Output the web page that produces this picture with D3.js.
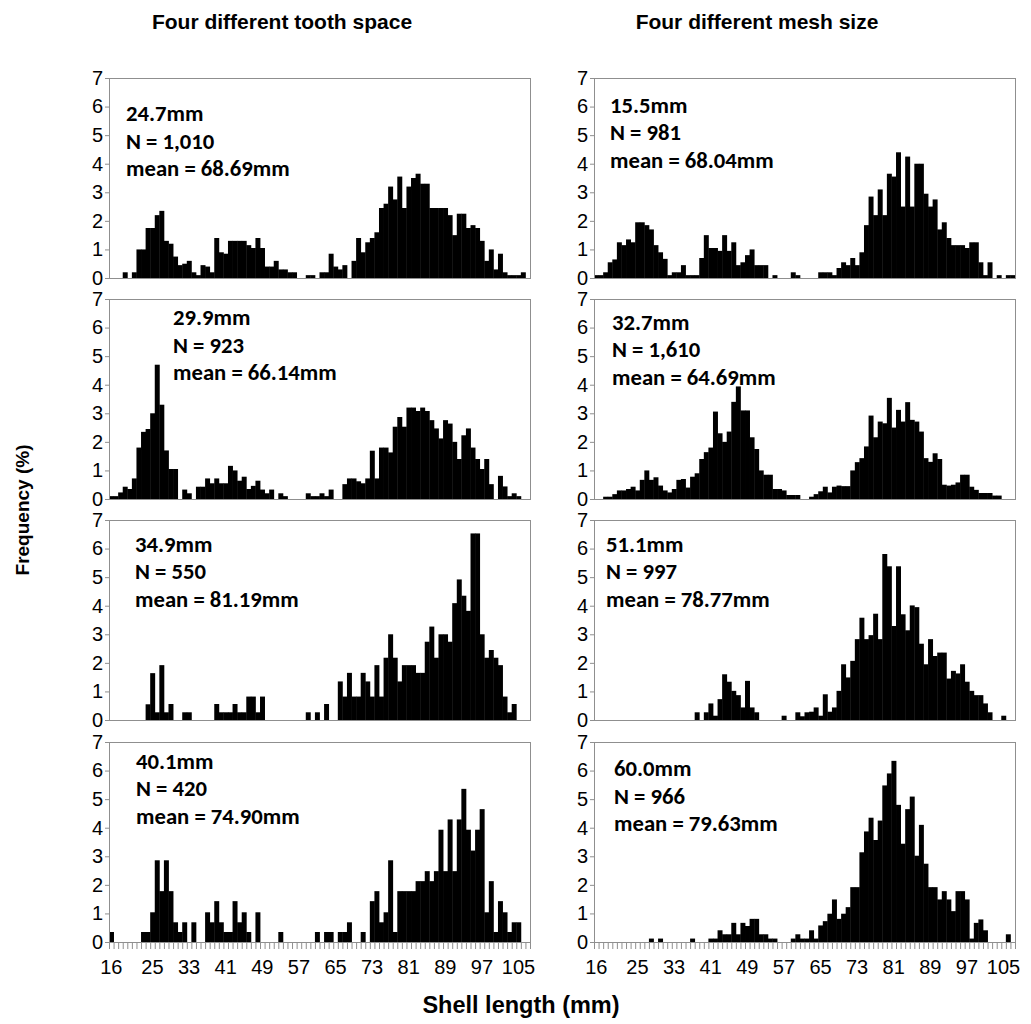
<!DOCTYPE html>
<html>
<head>
<meta charset="utf-8">
<script src="https://cdn.jsdelivr.net/npm/d3@7"></script>
<style>
  body { margin: 0; background: #fff; }
  svg { display: block; }
</style>
</head>
<body>
<svg id="chart"></svg>
<script>
// shell length classes (mm), one bar per class
const shellLength = d3.range(16, 108);
const tickLabels = [16, 25, 33, 41, 49, 57, 65, 73, 81, 89, 97, 105];
const yTicks = [0, 1, 2, 3, 4, 5, 6, 7];

// frequency (%) per class
const tooth247 = [0,0,0,0.2,0,0.2,1.0,1.0,1.75,1.75, 2.2,2.35,1.3,1.2,0.75,0.45,0.5,0.6,0.2,0.1,
  0.45,0.4,0.2,1.4,0.9,0.85,1.3,1.3,1.3,1.3, 1.15,1.05,1.4,1.05,0.4,0.4,0.6,0.3,0.3,0.2,
  0.2,0,0,0.1,0.1,0,0.2,0.2,0.85,0.4, 0.3,0.45,0,0.6,1.4,0.9,1.25,1.4,1.6,2.45,
  2.6,3.2,2.75,3.55,2.45,3.2,3.5,3.65,3.3,3.3, 2.45,2.45,2.45,2.45,2.2,1.5,2.25,2.25,1.75,1.85,
  1.75,1.3,0.6,1.0,0.3,0.85,0.2,0.1,0.1,0.1, 0.2,0];
const mesh155 = [0.1,0.1,0.2,0.55,0.65,1.25,1.15,1.35,1.25,1.95, 1.95,1.85,1.7,1.15,0.9,0.67,0.1,0.2,0.2,0.45,
  0.1,0.1,0.1,0.7,1.5,1.05,1.05,0.95,1.5,0.95, 1.25,0.45,0.55,0.8,1.0,0.45,0.45,0.45,0,0.1,
  0,0,0,0.2,0.1,0,0,0,0,0.2, 0.2,0.2,0.1,0.35,0.55,0.45,0.7,0.45,0.9,1.85,
  2.85,2.2,3.1,2.2,3.65,3.55,4.4,2.5,4.25,2.5, 4.0,4.0,2.95,2.5,2.75,1.7,1.95,1.4,1.15,1.15,
  1.15,1.05,1.25,1.25,0.55,0.1,0.55,0,0.1,0, 0.1,0.1];
const tooth299 = [0.1,0.1,0.23,0.43,0.35,0.72,1.8,2.35,2.45,3.0, 4.7,3.3,1.7,1.05,1.05,0,0.33,0.2,0,0.43,
  0.43,0.72,0.55,0.72,0.55,0.55,1.16,1.0,0.64,0.78, 0.35,0.46,0.64,0.33,0.2,0.33,0,0.2,0.1,0,
  0,0,0,0.2,0.1,0.1,0.2,0.1,0.33,0, 0,0.52,0.72,0.72,0.62,0.55,0.72,1.69,0.72,1.8,
  1.8,1.63,2.53,2.87,2.53,3.2,3.2,3.08,3.2,3.08, 2.76,2.47,2.12,2.76,2.64,2.0,1.4,2.23,2.47,1.8,
  1.4,1.05,1.4,0.52,0,0.81,0.44,0.1,0.2,0.1, 0,0];
const mesh327 = [0,0,0.08,0.08,0.17,0.3,0.3,0.35,0.43,0.3, 0.67,1.0,0.67,0.76,0.47,0.3,0.23,0.35,0.67,0.7,
  0.4,0.78,0.9,1.4,1.64,1.8,3.06,2.3,2.0,2.36, 3.4,3.94,3.1,3.1,2.16,1.75,1.0,0.85,0.85,0.35,
  0.35,0.3,0.14,0.14,0.14,0,0,0.08,0.17,0.27, 0.43,0.23,0.43,0.47,0.45,0.45,1.0,1.29,1.43,1.84,
  2.92,2.16,2.71,2.65,3.54,2.5,3.12,2.71,3.39,2.77, 2.71,2.36,1.43,1.3,1.6,1.4,0.5,0.47,0.5,0.58,
  0.85,0.85,0.43,0.32,0.21,0.21,0.21,0.12,0.12,0, 0,0];
const tooth349 = [0,0,0,0,0,0,0,0,0.55,1.64, 0.27,1.92,0.27,0.56,0,0,0.27,0.27,0,0,
  0,0,0,0.56,0.27,0.27,0.27,0.56,0.27,0.27, 0.82,0.82,0.27,0.82,0,0,0,0,0,0,
  0,0,0,0.27,0,0.27,0,0.56,0,0, 1.35,0.82,1.65,0.82,0.82,1.65,1.35,0.82,1.92,0.82,
  2.18,3.0,2.18,1.35,1.92,1.92,1.92,1.65,1.65,2.74, 3.27,2.18,3.0,3.0,2.74,4.09,4.92,4.35,3.82,6.53,
  6.53,3.0,2.18,2.45,2.18,1.92,0.82,0.27,0.56,0, 0,0];
const mesh511 = [0,0,0,0,0,0,0,0,0,0, 0,0,0,0,0,0,0,0,0,0,
  0,0,0.27,0,0.27,0.58,0.15,0.73,1.6,1.34, 1.02,0.87,0.44,1.37,0.44,0.27,0,0,0,0,
  0,0.15,0,0,0.27,0.13,0.27,0.29,0.44,0.15, 0.9,0.29,0.44,1.02,1.95,1.49,2.07,2.83,3.58,2.83,
  2.97,3.72,2.83,5.81,5.38,3.29,5.38,3.7,3.14,4.01, 3.95,2.67,1.95,2.83,2.24,2.36,2.36,1.45,1.72,1.63,
  1.95,1.34,1.02,0.87,0.87,0.58,0.27,0,0,0.15, 0,0];
const tooth401 = [0.35,0,0,0,0,0,0,0.35,0.35,1.04, 2.86,1.78,2.86,1.78,0.69,0.35,0.69,0,0.69,0,
  0,1.04,0.69,1.43,0.69,0.35,0.35,1.43,0.69,1.04, 0.35,0,1.04,0,0,0,0,0.35,0,0,
  0,0,0,0,0,0.35,0,0.35,0.35,0, 0.35,0.35,0.69,0,0,0.35,0,1.43,1.78,0.69,
  1.04,2.86,0.35,1.78,1.78,1.78,1.78,2.13,2.13,2.48, 2.13,2.48,3.93,2.48,4.29,2.48,4.29,5.36,3.93,3.2,
  3.93,4.65,1.04,2.13,0.35,1.43,1.04,0.35,0.69,0.69, 0,0];
const mesh600 = [0,0,0,0,0,0,0,0,0,0, 0,0,0.12,0,0.12,0,0,0,0,0,
  0,0.12,0,0,0,0.12,0.12,0.41,0.27,0.27, 0.67,0.27,0.67,0.56,0.81,0.81,0.27,0.27,0.12,0.12,
  0,0,0,0.12,0.27,0.12,0.12,0.41,0.12,0.58, 0.73,0.99,1.49,0.81,0.99,1.22,1.92,1.92,3.14,3.87,
  4.35,3.57,4.25,5.48,5.9,6.34,4.8,3.44,4.65,5.09, 3.02,4.1,2.74,1.92,1.92,1.49,1.78,1.49,1.08,1.78,
  1.78,1.49,0.12,0.67,0.79,0.41,0,0,0,0, 0.27,0];

// panel labels
const gapSize = ["24.7mm", "15.5mm", "29.9mm", "32.7mm", "34.9mm", "51.1mm", "40.1mm", "60.0mm"];
const sampleN = ["N = 1,010", "N = 981", "N = 923", "N = 1,610", "N = 550", "N = 997", "N = 420", "N = 966"];
const meanLen = ["mean = 68.69mm", "mean = 68.04mm", "mean = 66.14mm", "mean = 64.69mm",
  "mean = 81.19mm", "mean = 78.77mm", "mean = 74.90mm", "mean = 79.63mm"];
const series = [tooth247, mesh155, tooth299, mesh327, tooth349, mesh511, tooth401, mesh600];

// layout
const width = 1031, height = 1024;
const colX = [109, 594];
const rowY = [78, 299, 520, 742];
const plotW = 421, plotH = 200;
const labelPos = [[17, 43], [16, 34.5], [64, 26], [18, 30.5], [26, 31.5], [12, 31.5], [27, 26.5], [20, 34]];
const axisGrey = "#8f8f8f";
const arial = '"Liberation Sans", Arial, sans-serif';
const calibri = 'Carlito, Calibri, "Open Sans", sans-serif';

const svg = d3.select("#chart")
  .attr("width", width)
  .attr("height", height)
  .attr("viewBox", `0 0 ${width} ${height}`);

svg.append("rect").attr("width", width).attr("height", height).attr("fill", "#fff");

const x = d3.scaleBand().domain(shellLength).range([0, plotW]).padding(0);
const y = d3.scaleLinear().domain([0, 7]).range([plotH, 0]);

series.forEach((values, k) => {
  const col = k % 2, row = Math.floor(k / 2);
  const g = svg.append("g").attr("transform", `translate(${colX[col]},${rowY[row]})`);

  g.append("g")
    .selectAll("rect")
    .data(shellLength.map((c, i) => ({ c, v: values[i] || 0 })).filter(d => d.v > 0))
    .join("rect")
    .attr("x", d => x(d.c))
    .attr("width", x.bandwidth() + 0.4)
    .attr("y", d => y(d.v))
    .attr("height", d => y(0) - y(d.v))
    .attr("fill", "#000");

  // plot frame
  g.append("rect")
    .attr("x", 0.5).attr("y", 0.5)
    .attr("width", plotW).attr("height", plotH)
    .attr("fill", "none")
    .attr("stroke", axisGrey);

  g.append("g")
    .call(d3.axisLeft(y).tickValues(yTicks).tickSize(4).tickPadding(2).tickFormat(d3.format("d")))
    .call(a => a.select(".domain").attr("stroke", axisGrey))
    .call(a => a.selectAll(".tick line").attr("stroke", axisGrey))
    .call(a => a.selectAll("text").attr("fill", "#000").style("font", `20px ${arial}`));

  if (row === 3) {
    // one small tick between every length class
    g.append("g")
      .selectAll("line")
      .data(d3.range(shellLength.length + 1))
      .join("line")
      .attr("x1", i => i * x.step() + 0.5)
      .attr("x2", i => i * x.step() + 0.5)
      .attr("y1", plotH)
      .attr("y2", plotH + 7)
      .attr("stroke", axisGrey);

    g.append("g")
      .attr("transform", `translate(0,${plotH})`)
      .call(d3.axisBottom(x).tickValues(tickLabels).tickSize(0).tickPadding(18))
      .call(a => a.select(".domain").remove())
      .call(a => a.selectAll("text").attr("fill", "#000").style("font", `20px ${arial}`));
  }

  const [tx, ty] = labelPos[k];
  g.append("text")
    .attr("x", tx).attr("y", ty)
    .style("font", `bold 22.7px ${calibri}`)
    .selectAll("tspan")
    .data([gapSize[k], sampleN[k], meanLen[k]])
    .join("tspan")
    .attr("x", tx)
    .attr("dy", (d, i) => i === 0 ? 0 : 27.5)
    .text(d => d);
});

svg.append("text")
  .attr("x", 282).attr("y", 29)
  .attr("text-anchor", "middle")
  .style("font", `bold 21px ${arial}`)
  .text("Four different tooth space");

svg.append("text")
  .attr("x", 757).attr("y", 29)
  .attr("text-anchor", "middle")
  .style("font", `bold 21px ${arial}`)
  .text("Four different mesh size");

svg.append("text")
  .attr("transform", "translate(29,510) rotate(-90)")
  .attr("text-anchor", "middle")
  .style("font", `bold 19px ${arial}`)
  .text("Frequency (%)");

svg.append("text")
  .attr("x", 521).attr("y", 1013)
  .attr("text-anchor", "middle")
  .style("font", `bold 23.5px ${arial}`)
  .text("Shell length (mm)");
</script>
</body>
</html>
